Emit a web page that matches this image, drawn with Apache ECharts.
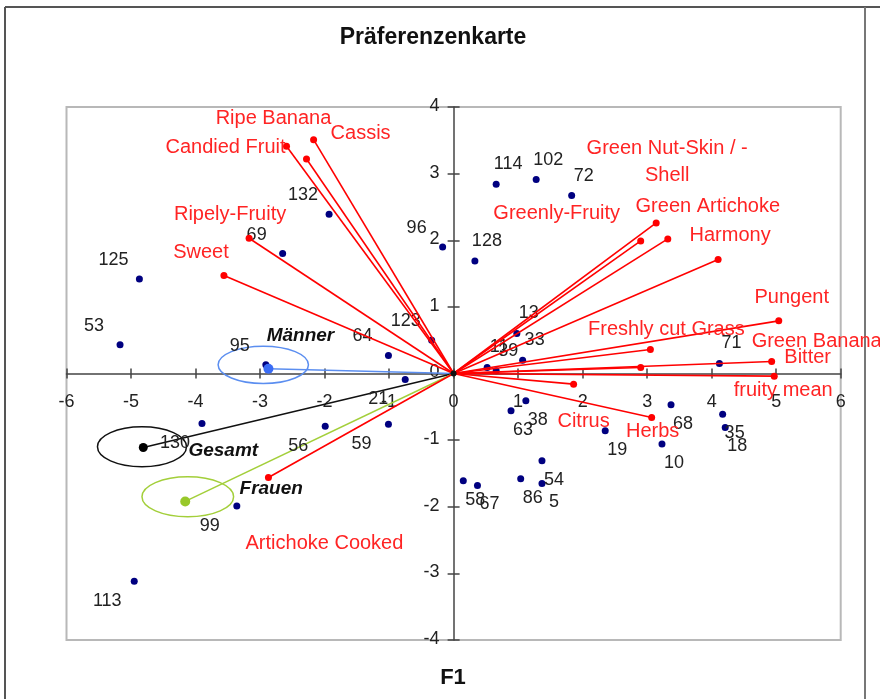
<!DOCTYPE html>
<html>
<head>
<meta charset="utf-8">
<script src="https://cdn.jsdelivr.net/npm/echarts@6/dist/echarts.min.js"></script>
<style>
html,body{margin:0;padding:0;background:#fff;}
#chart{width:880px;height:699px;}
</style>
</head>
<body>
<div id="chart"></div>
<script>
// ---------- DATA ----------
const xMin = -6, xMax = 6, xInterval = 1;
const yMin = -4, yMax = 4, yInterval = 1;
const xTickValues = [-6,-5,-4,-3,-2,-1,0,1,2,3,4,5,6];
const xTickLabels = ['-6','-5','-4','-3','-2','-1','0','1','2','3','4','5','6'];
const yTickValues = [-4,-3,-2,-1,0,1,2,3,4];
const yTickLabels = ['-4','-3','-2','-1','0','1','2','3','4'];

const obsNames = ['125','53','69','132','96','123','64','95','21','59','56','130','99','113',
  '114','102','72','128','13','33','71','11','39','38','63','19','68','10','35','18','54','5','86','58','67'];
const obsX = [-4.87,-5.17,-2.65,-1.93,-0.17,-0.34,-1.01,-2.91,-0.75,-1.01,-1.99,-3.90,-3.36,-4.95,
  0.66,1.28,1.83,0.33,0.98,1.07,4.12,0.52,0.66,1.12,0.89,2.35,3.37,3.23,4.17,4.21,1.37,1.37,1.04,0.15,0.37];
const obsY = [1.42,0.43,1.80,2.39,1.90,0.50,0.27,0.13,-0.09,-0.76,-0.79,-0.75,-1.99,-3.12,
  2.84,2.91,2.67,1.69,0.60,0.20,0.15,0.09,0.04,-0.41,-0.56,-0.86,-0.47,-1.06,-0.61,-0.81,-1.31,-1.65,-1.58,-1.61,-1.68];

const attrNames = ['Cassis','Candied Fruit','Ripe Banana','Ripely-Fruity','Sweet','Artichoke Cooked',
  'Green Nut-Skin / -\nShell','Green Artichoke','Greenly-Fruity','Harmony','Pungent','Freshly cut Grass',
  'Green Banana','Bitter','fruity mean','Citrus','Herbs'];
const attrX = [-2.17,-2.59,-2.28,-3.17,-3.56,-2.87,3.14,3.32,2.90,4.10,5.04,3.05,2.90,4.93,4.97,1.86,3.07];
const attrY = [3.51,3.41,3.22,2.03,1.47,-1.56,2.26,2.02,1.99,1.71,0.79,0.36,0.09,0.18,-0.04,-0.16,-0.66];

const groupNames = ['Männer','Gesamt','Frauen'];
const groupX = [-2.87,-4.81,-4.16];
const groupY = [0.07,-1.11,-1.92];
const ellipseCX = [-2.95,-4.83,-4.12];
const ellipseCY = [0.13,-1.10,-1.85];
const ellipseRX = [0.70,0.69,0.71];
const ellipseRY = [0.28,0.30,0.30];

// ---------- LAYOUT / STYLE ----------
const obsLabelPos = ['tl','tl','tl','tl','tl','tl','tl','tl','bl','bl','bl','bl','bl','bl',
  'tr','tr','tr','tr','tr','tr','tr','tr','tr','br','br','br','br','br','br','br','br','br','br','br','br'];
const posOffset = {tl:[-26,-19], bl:[-27,20], tr:[12,-20], br:[12,19]};
const attrLabelOffset = [[47,-6],[-61,1],[-33,-40],[-19,-24],[-23,-23],[56,66],
  [11,-61],[40,-32],[-84,-27],[12,-24],[13,-23],[16,-20],[176,-26],[36,-4],[9,14],[10,37],[1,14]];
const groupColors = ['#5b8ef0','#111111','#a3cf3a'];
const groupPointColors = ['#3a6cf5','#000000','#98c82a'];
const groupLabelOffset = [[32,-33],[80,3],[86,-13]];
const FONT = '"Liberation Sans", Arial, sans-serif';

const chart = echarts.init(document.getElementById('chart'));

function axisCommon(extra){
  return Object.assign({
    type:'value',
    splitLine:{show:false},
    axisLabel:{show:false},
    axisLine:{onZero:true, lineStyle:{color:'#444', width:1.5}},
    axisTick:{show:true, length:5, lineStyle:{color:'#444', width:1.5}},
  }, extra);
}

const option = {
  animation:false,
  backgroundColor:'#fff',
  grid:{left:66.5, right:39.3, top:107, bottom:59, show:true, borderColor:'#b8b8b8', borderWidth:2},
  xAxis:[
    axisCommon({min:xMin, max:xMax, interval:xInterval, position:'bottom'}),
    axisCommon({min:xMin, max:xMax, interval:xInterval, position:'top',
      axisLine:{show:false, onZero:true}})
  ],
  yAxis:[
    axisCommon({min:yMin, max:yMax, interval:yInterval, position:'left',
      axisTick:{show:true, length:6, lineStyle:{color:'#444', width:1.5}}}),
    axisCommon({min:yMin, max:yMax, interval:yInterval, position:'right',
      axisLine:{show:false, onZero:true},
      axisTick:{show:true, length:6, lineStyle:{color:'#444', width:1.5}}})
  ],
  graphic:[
    {type:'line', shape:{x1:5, y1:7, x2:880, y2:7}, style:{stroke:'#555', lineWidth:2}, silent:true},
    {type:'line', shape:{x1:5, y1:7, x2:5, y2:699}, style:{stroke:'#555', lineWidth:2}, silent:true},
    {type:'line', shape:{x1:865, y1:7, x2:865, y2:699}, style:{stroke:'#777', lineWidth:2}, silent:true},
    {type:'text', x:433, y:38, style:{text:'Präferenzenkarte', font:'bold 23px '+FONT, fill:'#111', textAlign:'center', textVerticalAlign:'middle'}},
    {type:'text', x:453, y:678, style:{text:'F1', font:'bold 22px '+FONT, fill:'#111', textAlign:'center', textVerticalAlign:'middle'}}
  ],
  series:[
    // x tick labels along the zero line
    {
      type:'scatter', symbolSize:0, silent:true, z:2,
      itemStyle:{opacity:1},
      data: xTickValues.map((v,i)=>({value:[v,0], name:xTickLabels[i]})),
      label:{show:true, position:'inside', formatter:'{b}', offset:[0,29], fontSize:18, color:'#222', fontFamily:FONT, align:'center', verticalAlign:'middle'}
    },
    // y tick labels along the zero line
    {
      type:'scatter', symbolSize:0, silent:true, z:2,
      itemStyle:{opacity:1},
      data: yTickValues.map((v,i)=>({value:[0,v], name:yTickLabels[i]})),
      label:{show:true, position:'inside', formatter:'{b}', offset:[-14,-1], fontSize:18, color:'#222', fontFamily:FONT, align:'right', verticalAlign:'middle'}
    },
    // ellipses
    {
      type:'custom', coordinateSystem:'cartesian2d', silent:true, z:3,
      data: ellipseCX.map((cx,i)=>[cx, ellipseCY[i], ellipseRX[i], ellipseRY[i], i]),
      renderItem:function(params, api){
        const c = api.coord([api.value(0), api.value(1)]);
        const s = api.size([api.value(2), api.value(3)]);
        return {type:'ellipse', shape:{cx:c[0], cy:c[1], rx:s[0], ry:s[1]},
          style:{fill:'none', stroke:groupColors[api.value(4)], lineWidth:1.5}};
      }
    },
    // group lines
    {
      type:'lines', coordinateSystem:'cartesian2d', silent:true, z:3,
      data: groupX.map((x,i)=>({coords:[[x,groupY[i]],[0,0]], lineStyle:{color:groupColors[i], width:1.5}})),
      lineStyle:{width:1.5, opacity:1}
    },
    // observations
    {
      type:'scatter', symbol:'circle', symbolSize:7, z:4,
      itemStyle:{color:'#000080', opacity:1},
      data: obsX.map((x,i)=>({value:[x,obsY[i]], name:obsNames[i],
        label:{offset:posOffset[obsLabelPos[i]]}})),
      label:{show:true, position:'inside', formatter:'{b}', fontSize:18, color:'#222', fontFamily:FONT, align:'center', verticalAlign:'middle'}
    },
    // attribute vectors
    {
      type:'lines', coordinateSystem:'cartesian2d', silent:true, z:5,
      data: attrX.map((x,i)=>({coords:[[0,0],[x,attrY[i]]]})),
      lineStyle:{color:'#ff0000', width:1.6, opacity:1}
    },
    // attribute points
    {
      type:'scatter', symbol:'circle', symbolSize:7, z:6,
      itemStyle:{color:'#ff0000', opacity:1},
      data: attrX.map((x,i)=>({value:[x,attrY[i]], name:attrNames[i],
        label:{offset:attrLabelOffset[i]}})),
      label:{show:true, position:'inside', formatter:'{b}', fontSize:20, lineHeight:27, color:'#ff2424', fontFamily:FONT, align:'center', verticalAlign:'middle'}
    },
    // group points
    {
      type:'scatter', symbol:'circle', z:7,
      data: groupX.map((x,i)=>({value:[x,groupY[i]], name:groupNames[i], symbolSize:i===1?9:10,
        itemStyle:{color:groupPointColors[i], opacity:1}, label:{offset:groupLabelOffset[i]}})),
      label:{show:true, position:'inside', formatter:'{b}', fontSize:19, fontWeight:'bold', fontStyle:'italic', color:'#111', fontFamily:FONT, align:'center', verticalAlign:'middle'}
    },
    // origin marker
    {
      type:'scatter', symbol:'circle', symbolSize:6, z:8, silent:true,
      itemStyle:{color:'#111', opacity:1}, data:[[0,0]]
    }
  ]
};
chart.setOption(option);
</script>
</body>
</html>
